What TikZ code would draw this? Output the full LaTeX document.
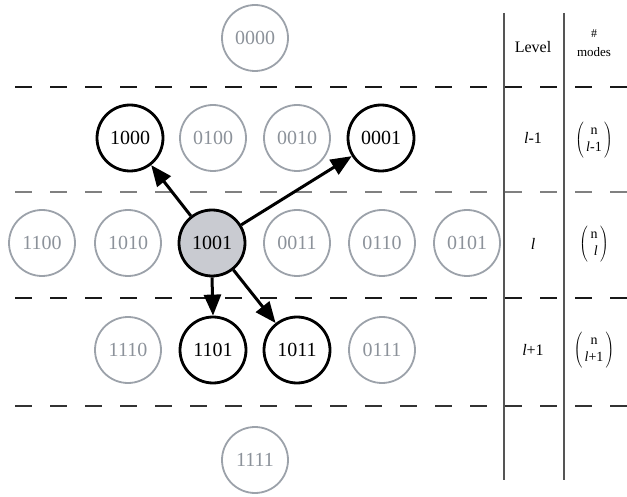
\documentclass[tikz,border=0pt]{standalone}
\usepackage{fontspec}
\setmainfont{Liberation Serif}
\usetikzlibrary{arrows.meta}
\definecolor{faint}{HTML}{9CA2AA}
\definecolor{fainttext}{HTML}{8C929A}
\definecolor{hub}{HTML}{C9CBD1}
\definecolor{rule}{HTML}{555555}
\tikzset{
  state/.style={circle, minimum size=66pt, inner sep=0pt, font=\fontsize{20}{20}\selectfont},
  dim/.style={state, draw=faint, line width=1.8pt, text=fainttext},
  live/.style={state, draw=black, line width=2.8pt, text=black},
  source/.style={live, fill=hub},
  move/.style={line width=3pt, -{Triangle[length=21pt,width=17pt]}},
  levelsep/.style={line width=1.2pt, dash pattern=on 17pt off 18pt},
  tabtxt/.style={font=\fontsize{16}{16}\selectfont},
  bintxt/.style={font=\fontsize{14}{17}\selectfont},
}
\newcommand{\bincol}[1]{$\left(\begin{tabular}{@{\,}c@{\,}}n\\#1\end{tabular}\right)$}
\begin{document}
\begin{tikzpicture}[x=1pt,y=-1pt]
\useasboundingbox (0,0) rectangle (627,497);

% level separators
\draw[levelsep, draw=black!90] (15,87) -- (627,87);
\draw[levelsep, draw=gray] (15,192) -- (627,192);
\draw[levelsep, draw=black!90] (15,298) -- (627,298);
\draw[levelsep, draw=black!80] (15,406) -- (627,406);

% table rules
\draw[rule, line width=1.2pt] (504,13) -- (504,480);
\draw[rule, line width=1.2pt] (564,13) -- (564,480);

% states
\node[dim] (s0000) at (255,38) {0000};

\node[live] (s1000) at (130,138) {1000};
\node[dim]  (s0100) at (213,138) {0100};
\node[dim]  (s0010) at (297,138) {0010};
\node[live] (s0001) at (381,138) {0001};

\node[dim]  (s1100) at (42,243) {1100};
\node[dim]  (s1010) at (128,243) {1010};
\node[source] (s1001) at (212,243) {1001};
\node[dim]  (s0011) at (297,243) {0011};
\node[dim]  (s0110) at (382,243) {0110};
\node[dim]  (s0101) at (467,243) {0101};

\node[dim]  (s1110) at (128,350) {1110};
\node[live] (s1101) at (213,350) {1101};
\node[live] (s1011) at (297,350) {1011};
\node[dim]  (s0111) at (382,350) {0111};

\node[dim] (s1111) at (255,460) {1111};

% transitions out of the source state
\draw[move] (s1001) -- (s1000);
\draw[move] (s1001) -- (s0001);
\draw[move] (s1001.south) -- (s1101.north);
\draw[move] (s1001) -- (s1011);

% table headings
\node[tabtxt] (hlevel) at (533,47) {Level};
\node[font=\fontsize{12}{12}\selectfont] (hhash) at (594,34) {\#};
\node[font=\fontsize{13}{13}\selectfont] (hmodes) at (594,52) {modes};

% table rows
\node[tabtxt] (lv1) at (533,138) {\textit{l}-1};
\node[tabtxt] (lv2) at (533,244) {\textit{l}};
\node[tabtxt] (lv3) at (533,350) {\textit{l}+1};

\node[bintxt] (m1) at (594,140) {\bincol{\textit{l}-1}};
\node[bintxt] (m2) at (594,244) {\bincol{\ \textit{l}\ }};
\node[bintxt] (m3) at (594,350) {\bincol{\textit{l}+1}};
\end{tikzpicture}
\end{document}
